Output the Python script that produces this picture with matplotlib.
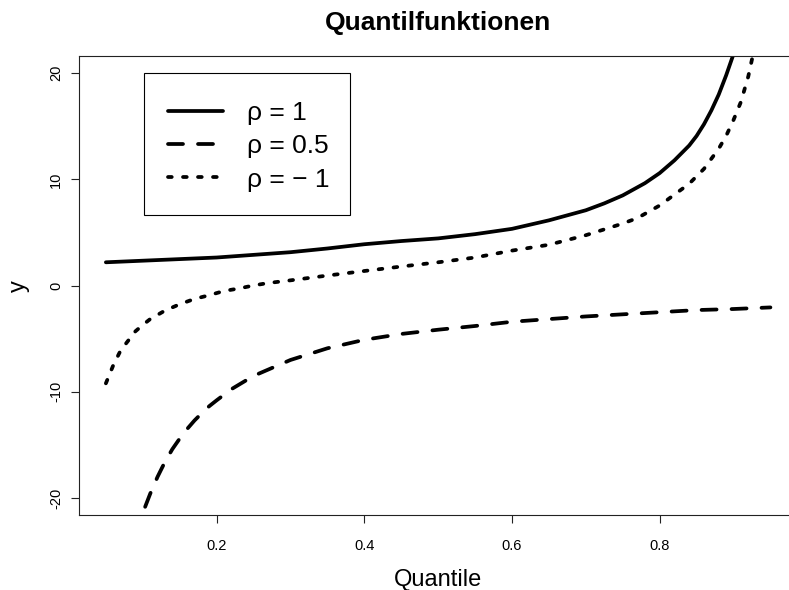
import numpy as np
import matplotlib.pyplot as plt
from matplotlib.patches import Rectangle

plt.rcParams['font.family'] = ['Liberation Sans', 'DejaVu Sans']
plt.rcParams['axes.unicode_minus'] = False

# values
p_rho1 = [0.05, 0.10, 0.15, 0.20, 0.25, 0.30, 0.35, 0.40, 0.45, 0.50, 0.55, 0.60,
          0.65, 0.70, 0.725, 0.75, 0.78, 0.80, 0.82, 0.84, 0.85, 0.86, 0.87, 0.88,
          0.89, 0.90, 0.91]
y_rho1 = [2.2, 2.35, 2.5, 2.65, 2.9, 3.15, 3.5, 3.9, 4.2, 4.45, 4.85, 5.35,
          6.15, 7.1, 7.75, 8.5, 9.65, 10.6, 11.8, 13.2, 14.1, 15.2, 16.5, 18.0,
          19.8, 21.8, 23.8]

p_rho05 = [0.09, 0.10, 0.11, 0.12, 0.13, 0.14, 0.15, 0.16, 0.17, 0.18, 0.19, 0.20,
           0.22, 0.25, 0.30, 0.35, 0.40, 0.45, 0.50, 0.55, 0.60, 0.65, 0.70, 0.75,
           0.80, 0.85, 0.90, 0.95]
y_rho05 = [-23.5, -21.4, -19.6, -18.0, -16.6, -15.4, -14.4, -13.5, -12.7, -12.0, -11.35, -10.8,
           -9.75, -8.5, -7.0, -5.9, -5.1, -4.55, -4.15, -3.8, -3.4, -3.15, -2.9, -2.7,
           -2.5, -2.3, -2.2, -2.05]

p_rhom1 = [0.05, 0.06, 0.07, 0.08, 0.09, 0.10, 0.11, 0.13, 0.15, 0.17, 0.19, 0.21,
           0.23, 0.25, 0.27, 0.30, 0.35, 0.40, 0.45, 0.50, 0.55, 0.60, 0.65, 0.70,
           0.75, 0.77, 0.80, 0.84, 0.86, 0.88, 0.89, 0.90, 0.91, 0.92, 0.925, 0.93]
y_rhom1 = [-9.2, -7.5, -6.1, -5.2, -4.3, -3.7, -3.15, -2.35, -1.75, -1.25, -0.9, -0.5,
           -0.27, 0.02, 0.25, 0.5, 0.95, 1.38, 1.8, 2.2, 2.65, 3.3, 3.85, 4.75,
           5.85, 6.37, 7.55, 9.6, 11.0, 12.9, 14.1, 15.6, 17.3, 19.7, 21.3, 23.0]

labels = ['ρ = 1', 'ρ = 0.5', 'ρ = − 1']
xticks = [0.2, 0.4, 0.6, 0.8]
yticks = [-20, -10, 0, 10, 20]

fig = plt.figure(figsize=(7.89, 5.90), dpi=100)
ax = fig.add_axes([79.3/789, 75/590, 717.7/789, 458.7/590])

lw = 2.7
ax.plot(p_rho1, y_rho1, color='black', lw=lw, solid_capstyle='round', label=labels[0])
ax.plot(p_rho05, y_rho05, color='black', lw=lw, linestyle=(0, (4, 4)),
        dash_capstyle='round', label=labels[1])
ax.plot(p_rhom1, y_rhom1, color='black', lw=lw, linestyle=(0, (1, 3)),
        dash_capstyle='round', label=labels[2])

ax.set_xlim(0.014, 0.986)
ax.set_ylim(-21.6, 21.6)
ax.set_xticks(xticks)
ax.set_xticklabels([str(t) for t in xticks])
ax.set_yticks(yticks)
ax.set_yticklabels([str(t) for t in yticks])
plt.setp(ax.get_yticklabels(), rotation=90, va='center')

for s in ax.spines.values():
    s.set_linewidth(0.8)
    s.set_color('#222222')
ax.tick_params(axis='both', direction='out', length=5.5, width=0.8,
               labelsize=10.5, color='#222222')
ax.tick_params(axis='x', pad=12)
ax.tick_params(axis='y', pad=6)

ax.set_xlabel('Quantile', fontsize=17, labelpad=11)
ax.set_ylabel('y', fontsize=17, labelpad=14)
ax.set_title('Quantilfunktionen', fontsize=19, fontweight='bold', pad=19)

# legend with an R style box
ax.legend(loc='upper left', bbox_to_anchor=(0.1236, 0.902), frameon=False,
          fontsize=19, handlelength=2.1, handletextpad=0.9, labelspacing=0.35,
          borderpad=0, borderaxespad=0)
ax.add_patch(Rectangle((0.0901, 0.654), 0.287, 0.3096, transform=ax.transAxes,
                       fill=False, lw=0.8, ec='black'))

fig.savefig('out.png', dpi=100)
